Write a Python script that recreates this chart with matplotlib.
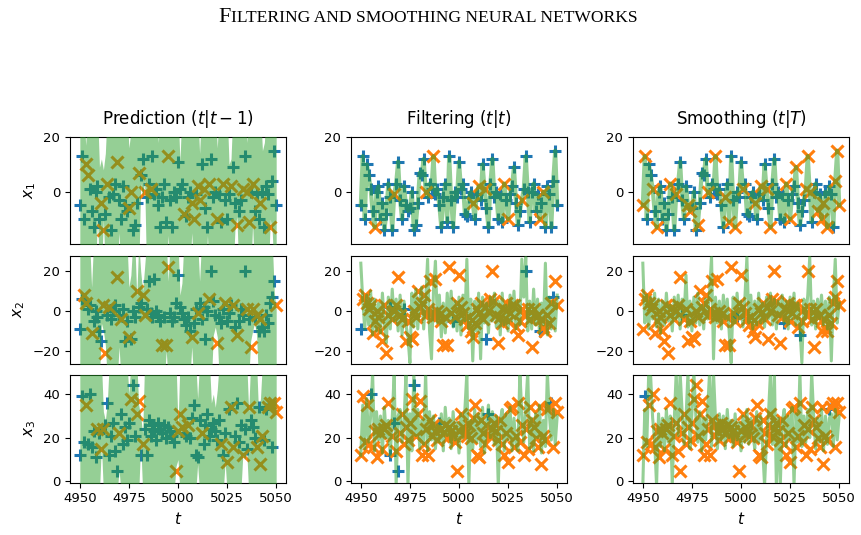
import numpy as np
import matplotlib
matplotlib.use("Agg")
import matplotlib.pyplot as plt

# time axis
t = np.arange(4950, 5051)

# true states
x1_true = [-5, 13, -10, 10, 6, 1, -7, -13, 0, 2,
           -10, -4, -14, -8, 3, -2, -14, -1, 3, 11,
           -3, -10, 2, -5, -7, -6, 0, -14, -12, -4,
           7, 6, 12, 0, -2, 3, 1, 13, -1, 1,
           -5, -13, -2, 3, -11, 13, -3, -13, 0, -2,
           11, 1, 3, -8, -9, -2, 0, -4, -10, -1,
           2, -3, 10, 1, -6, -13, 3, 12, -2, 0,
           -10, -1, -11, 3, -3, -10, -1, 2, 9, -4,
           -12, -7, -3, 1, 13, 0, -11, 0, 3, -7,
           -1, -10, -4, 0, -13, 2, -1, -13, 4, 15,
           -5]
x2_true = [-9, 6, 8, 4, 1, 3, -11, -5, 0, -3,
           -10, -15, 3, -21, -2, 2, -4, 0, 3, 17,
           -2, -4, 1, -15, -5, -13, -14, 0, -3, 10,
           2, 4, 8, -2, 1, 15, -1, -3, 16, 0,
           -2, -5, -17, -3, -17, 22, -1, -5, -3, 4,
           18, 2, -1, -4, -7, -3, -10, -13, -6, 1,
           -1, 4, -4, 2, -14, 0, 6, 20, 5, -2,
           -16, -3, -6, 1, 4, -5, -1, 3, 3, -8,
           -12, -5, 1, -2, 20, 1, -4, -18, 1, -3,
           -2, -10, -4, -8, -10, -2, -6, 4, 7, 15,
           3]
x3_true = [12, 39, 18, 35, 17, 40, 16, 23, 11, 24,
           22, 15, 24, 26, 36, 12, 21, 27, 14, 5,
           22, 31, 17, 25, 19, 27, 38, 44, 21, 31,
           37, 12, 17, 24, 12, 28, 21, 26, 23, 19,
           27, 24, 22, 26, 20, 25, 23, 21, 18, 5,
           23, 31, 25, 22, 21, 26, 20, 29, 35, 12,
           11, 28, 22, 17, 26, 31, 21, 24, 27, 23,
           19, 28, 17, 12, 22, 9, 33, 34, 16, 21,
           36, 18, 26, 12, 24, 15, 34, 28, 25, 20,
           16, 34, 8, 21, 19, 33, 34, 36, 16, 36,
           32]

# time indices drawn as orange x (the rest are blue +), per panel
pred_x1_marked = [3, 4, 11, 12, 14, 19, 25, 26, 30, 33, 36, 45, 53, 57, 58, 60, 61, 63,
                  66, 70, 73, 77, 80, 83, 85, 86, 88, 92, 97]
filt_x1_marked = [7, 17, 33, 37, 57, 60, 63, 73, 75, 82, 91, 93]
smooth_x1_marked = [0, 1, 5, 7, 14, 17, 23, 24, 28, 33, 37, 42, 44, 47, 51, 57, 60, 63, 65,
                    73, 75, 78, 83, 84, 85, 89, 91, 92, 94, 98, 99, 100]
pred_x2_marked = [2, 3, 6, 12, 13, 15, 19, 21, 25, 29, 32, 33, 42, 44, 45, 57, 60, 66, 70,
                  74, 78, 80, 85, 87, 88, 90, 92, 100]
filt_x2_unmarked = [0, 15, 22, 47, 64, 84, 91, 98]
smooth_x2_unmarked = [20, 48, 72, 80]
pred_x3_marked = [3, 9, 11, 12, 20, 26, 29, 30, 32, 49, 50, 51, 52, 55, 62, 72, 75, 77, 78,
                  83, 86, 90, 92, 93, 96, 97, 99, 100]
filt_x3_unmarked = [5, 15, 17, 19, 27, 40, 65, 97]
smooth_x3_unmarked = [1, 95]

# prediction bands (lower / upper)
pred_x1_hi = [30, 30, 30, 17, 30, 30, 30, 30, 30, 30,
              9, 12, 8, 14, 30, 30, 30, 30, 30, 30,
              30, 30, 30, 30, 30, 16, 22, 30, 30, 30,
              30, 30, 30, 30, 30, 30, 30, 30, 30, 30,
              18, 30, 30, 30, 30, 30, 30, 30, 30, 30,
              30, 11, 30, 30, 30, 30, 30, 30, 30, 30,
              30, 14, 30, 30, 30, 30, 30, 30, 30, 30,
              16, 30, 30, 30, 30, 30, 10, 12, 30, 30,
              30, 30, 30, 30, 30, 18, 30, 30, 30, 30,
              30, 30, 30, 15, 18, 30, 30, 30, 30, 30,
              30]
pred_x1_lo = [-30, -30, -30, -30, -30, -30, -30, -30, -30, -8,
              -30, -30, -10, -30, -30, -30, -30, -30, -30, -30,
              -15, -30, -30, -30, -30, -30, -30, -30, -30, -30,
              -30, 3, -2, 4, -30, -30, -30, -30, -30, -30,
              -30, -30, -30, -30, -30, -16, -30, -30, -30, -30,
              -30, -30, -30, -30, -30, -30, -30, -15, -30, -30,
              -30, -30, -30, -30, -30, -16, -30, -30, -30, -30,
              -30, -30, -30, -30, -30, -30, -30, -30, -30, -14,
              -9, -30, -30, -30, -30, -30, -30, -30, -12, -30,
              -30, -30, -30, -30, -30, -30, -30, -10, -15, -30,
              -30]
pred_x2_hi = [35, 35, 35, 35, 35, 35, 12, 35, 35, 35,
              35, 35, 35, 35, 35, 35, 35, 35, 35, 35,
              35, 35, 35, 35, 35, 12, 18, 35, 35, 7,
              35, 20, 10, 22, 35, 35, 35, 35, 35, 35,
              35, 35, 35, 35, 35, 15, 35, 35, 35, 35,
              35, 8, 14, 35, 35, 35, 35, 35, 35, 35,
              35, 15, 35, 35, 35, 35, 35, 35, 35, 35,
              35, 35, 35, 35, 35, 35, 35, 35, 35, 35,
              35, 35, 35, 35, 35, 35, 35, 35, 35, 35,
              35, 35, 35, 35, 35, 35, 35, 35, 35, 10,
              1]
pred_x2_lo = [-35, -35, -35, -35, -35, -35, -35, -35, -35, -35,
              -35, -6, -10, -17, -35, -35, -35, -35, -35, -35,
              -18, -35, -35, -35, -35, -35, -35, -35, -35, -35,
              -35, -35, -35, -35, -35, -35, -35, -35, -35, -35,
              -35, -35, -35, -35, -20, -35, -35, -35, -35, -35,
              -35, -35, -35, -35, -35, -35, -35, -18, -35, -35,
              -35, -35, -35, -35, -35, -35, -35, -35, -12, -8,
              -13, -35, -35, -35, -35, -35, -35, -35, -35, -35,
              -35, -35, -35, -35, -35, -35, -35, -15, -10, -6,
              -12, -35, -35, -35, -35, -35, -35, -35, -35, -35,
              -35]
pred_x3_hi = [55, 55, 55, 55, 55, 55, 55, 55, 55, 55,
              55, 55, 32, 28, 36, 55, 55, 55, 55, 55,
              55, 55, 55, 55, 55, 40, 55, 55, 55, 55,
              35, 30, 22, 55, 55, 55, 55, 55, 55, 55,
              55, 55, 55, 55, 55, 55, 55, 55, 55, 55,
              25, 55, 55, 55, 55, 55, 55, 55, 55, 55,
              38, 55, 55, 55, 55, 55, 55, 36, 40, 34,
              42, 55, 55, 55, 55, 55, 55, 55, 55, 55,
              55, 55, 55, 55, 55, 55, 32, 55, 55, 55,
              55, 32, 38, 55, 55, 55, 55, 55, 55, 55,
              55]
pred_x3_lo = [-5, -5, -5, -5, -5, -5, -5, -5, -5, -5,
              -5, 17, -5, -5, -5, -5, -5, -5, -5, -5,
              5, -5, -5, -5, -5, -5, -5, -5, -5, -5,
              -5, 18, -5, -5, -5, -5, -5, -5, -5, -5,
              -5, -5, -5, -5, -5, -5, -5, -5, -5, 7,
              10, -5, -5, -5, -5, -5, -5, -5, -5, -5,
              8, -5, -5, -5, -5, -5, -5, -5, -5, -5,
              -5, -5, -5, -5, 9, -5, -5, -5, -5, -5,
              -5, -5, -5, 12, 10, 14, -5, -5, -5, -5,
              -5, -5, -5, -5, -5, -5, -5, -5, -5, -5,
              -5]

# estimate curves for filtering / smoothing of x2 and x3
filt_x2_mean = [24, 5, -9, 8, -7, 10, -12, 6, -10, 4,
                -11, 9, -6, -16, 7, -9, 11, -5, 6, -10,
                8, -12, 5, -7, -13, -26, 9, -8, 11, -9,
                6, 12, -9, 5, 26, -10, -24, 10, 25, -6,
                8, -13, 4, -11, 9, -5, 10, -8, 5, -10,
                7, -12, 8, -5, 26, -9, 6, -25, 5, -10,
                9, -24, 7, -6, 4, -11, 7, -5, 9, -8,
                5, -12, 9, -7, 3, -10, 8, -5, 10, -9,
                5, -7, 26, 7, 27, -10, 5, -9, 11, -7,
                6, -11, 4, -7, 24, -12, 7, -9, 5, -10,
                8]
smooth_x2_mean = [24, -6, 8, -9, 7, -4, 9, -8, 6, -11,
                  5, -7, 9, -5, 3, -10, 7, -4, 8, -9,
                  6, -3, 18, -8, 5, -10, 7, -6, 9, -7,
                  3, -9, 6, -4, 10, 27, -24, 7, -6, 5,
                  -9, 8, -4, 6, -11, -26, 7, -6, 9, -4,
                  5, -8, 7, 27, -6, 8, -9, 5, -7, 9,
                  -6, 4, -8, 7, -4, 9, -7, 6, -9, 5,
                  -3, 8, -6, 5, -9, 7, -4, 9, -7, 4,
                  -8, -26, 6, -4, 8, 27, -7, 5, -9, 6,
                  -4, 8, -7, 5, -9, 7, -25, 6, 26, -6,
                  4]
filt_x3_mean = [12, 35, 15, 38, 18, 30, 50, 14, 32, 19,
                30, 13, 34, 20, 28, 12, 29, 50, -2, 30,
                33, 18, 27, 50, -2, 31, 14, 50, 21, 33,
                15, 28, 17, 50, 14, 32, 19, 30, 15, 26,
                18, 31, 14, 34, 21, 29, 15, 32, 19, 27,
                13, 31, 20, 33, 50, -2, 28, 15, 33, 18,
                31, 16, 34, 13, 27, 35, 20, 32, 17, 30,
                -2, 28, 33, 14, 31, 19, 34, 14, 29, 17,
                14, 50, 31, 18, 34, 50, 15, 29, 14, 31,
                20, 35, 13, 28, 16, 50, 31, 19, 33, 17,
                30]
smooth_x3_mean = [-2, 33, 16, 50, 48, 29, 19, -2, 31, 16,
                  29, 14, 33, 18, 30, -2, 28, 50, 21, 50,
                  32, 17, 29, 50, 15, 31, 50, 30, 18, 32,
                  14, 29, 19, 33, 50, 16, 50, 29, 15, 31,
                  19, 30, 15, 33, 20, 28, 16, 31, 19, 27,
                  14, 30, 18, 33, 17, 29, 22, 15, 32, 18,
                  30, 16, -2, 19, 31, 50, 17, 50, -2, 29,
                  -2, 27, 33, 16, 30, 19, 34, -2, 31, 18,
                  50, 16, 30, 18, 33, 20, 50, 30, 15, 29,
                  18, 33, 14, 30, 17, 29, 31, 16, 33, 19,
                  30]

col_titles = ["Prediction $(t|t-1)$", "Filtering $(t|t)$", "Smoothing $(t|T)$"]
row_labels = ["$x_1$", "$x_2$", "$x_3$"]
ylims = [(-19.3, 20.0), (-26.3, 27.6), (-0.5, 48.8)]
yticks = [[0, 20], [-20, 0, 20], [0, 20, 40]]


def all_but(skip):
    return [i for i in range(len(t)) if i not in skip]


truths = [np.array(x1_true), np.array(x2_true), np.array(x3_true)]
marked = [
    [pred_x1_marked, filt_x1_marked, smooth_x1_marked],
    [pred_x2_marked, all_but(filt_x2_unmarked), all_but(smooth_x2_unmarked)],
    [pred_x3_marked, all_but(filt_x3_unmarked), all_but(smooth_x3_unmarked)],
]
bands = [
    [(pred_x1_lo, pred_x1_hi), x1_true, x1_true],
    [(pred_x2_lo, pred_x2_hi), filt_x2_mean, smooth_x2_mean],
    [(pred_x3_lo, pred_x3_hi), filt_x3_mean, smooth_x3_mean],
]

W, H = 862, 535
fig = plt.figure(figsize=(W / 100, H / 100), dpi=100)
plt.rcParams['mathtext.fontset'] = 'dejavusans'

lefts = [70, 351, 633]
tops = [137, 256, 375]
aw, ah = 216, 107.5
green = 'tab:green'

for r in range(3):
    for c in range(3):
        ax = fig.add_axes([lefts[c] / W, 1 - (tops[r] + ah) / H, aw / W, ah / H])
        y = truths[r]
        xi = np.array(marked[r][c])
        pi = np.array([i for i in range(len(t)) if i not in marked[r][c]], dtype=int)
        ax.plot(t[pi], y[pi], '+', color='tab:blue', ms=8, mew=2.2, zorder=2)
        ax.plot(t[xi], y[xi], 'x', color='tab:orange', ms=8.5, mew=2.2, zorder=2.5)
        if c == 0:
            lo, hi = bands[r][c]
            ax.fill_between(t, lo, hi, color=green, alpha=0.5, lw=0, zorder=3)
        else:
            ax.plot(t, bands[r][c], color=green, alpha=0.5, lw=2.2 if r else 3, zorder=3)
        ax.set_xlim(4945, 5055)
        ax.set_ylim(*ylims[r])
        ax.set_yticks(yticks[r])
        ax.tick_params(labelsize=9.5)
        if r == 2:
            ax.set_xticks([4950, 4975, 5000, 5025, 5050])
            ax.set_xlabel("$t$", fontsize=11)
        else:
            ax.set_xticks([])
        if r == 0:
            ax.set_title(col_titles[c], fontsize=12, pad=9)
        if c == 0:
            ax.set_ylabel(row_labels[r], fontsize=11)

# running header in small caps
renderer = fig.canvas.get_renderer()
t1 = fig.text(0, 0, "F", fontsize=16, family="Liberation Serif", va="baseline")
t2 = fig.text(0, 0, "ILTERING AND SMOOTHING NEURAL NETWORKS", fontsize=12.6,
              family="Liberation Serif", va="baseline")
w1 = t1.get_window_extent(renderer).width
w2 = t2.get_window_extent(renderer).width
x0 = 428 - (w1 + w2) / 2
yb = 1 - 22 / H
t1.set_position((x0 / W, yb))
t2.set_position(((x0 + w1) / W, yb))

fig.savefig("out.png", dpi=100)
